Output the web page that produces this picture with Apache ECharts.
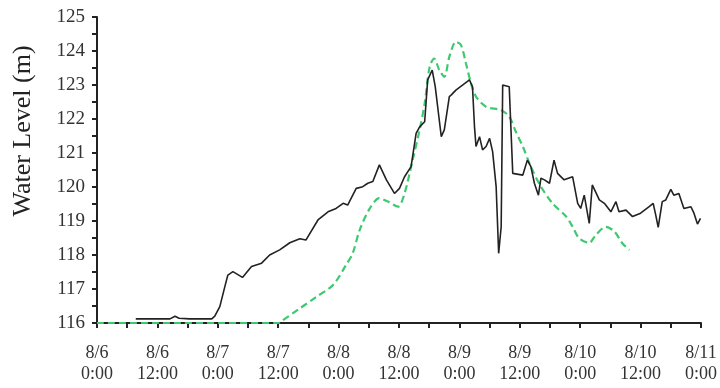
<!DOCTYPE html>
<html>
<head>
<meta charset="utf-8">
<script src="https://cdn.jsdelivr.net/npm/echarts@6/dist/echarts.min.js"></script>
<style>
  html, body { margin: 0; padding: 0; background: #fff; }
  #chart { width: 720px; height: 388px; }
</style>
</head>
<body>
<div id="chart"></div>
<script>
// hours since 8/6 0:00
var xTickLabels = ['8/6\n0:00', '8/6\n12:00', '8/7\n0:00', '8/7\n12:00', '8/8\n0:00', '8/8\n12:00',
	'8/9\n0:00', '8/9\n12:00', '8/10\n0:00', '8/10\n12:00', '8/11\n0:00'];

var observedHours = [7.7, 14.5, 15.5, 16.3, 18.4, 22.8, 23.4, 24.4, 25.4, 26.0, 27.0, 28.9, 30.7, 32.7, 34.3, 36.3,
	38.3, 40.3, 41.5, 43.9, 45.9, 47.5, 48.9, 49.8, 51.5, 52.8, 53.8, 54.8, 56.1, 57.5, 59.1, 60.1,
	61.1, 62.4, 63.4, 64.1, 65.1, 65.7, 66.6, 67.2, 68.0, 68.4, 69.0, 70.0, 70.4, 71.3, 74.0, 74.6,
	75.0, 75.3, 76.0, 76.6, 77.3, 78.0, 78.6, 79.3, 79.8, 80.3, 80.6, 81.9, 82.6, 82.9, 84.6, 85.5,
	86.2, 86.9, 87.7, 88.2, 88.9, 89.9, 90.8, 91.5, 92.8, 94.5, 95.5, 96.1, 96.8, 97.8, 98.4, 99.8,
	100.8, 102.1, 103.1, 103.7, 105.1, 106.4, 108.0, 109.7, 110.5, 111.0, 111.5, 112.3, 113.0, 114.0,
	114.6, 115.6, 116.6, 118.0, 118.6, 119.3, 119.9];
var observedLevel = [116.12, 116.12, 116.2, 116.14, 116.12, 116.12, 116.2, 116.48, 117.07, 117.41, 117.51, 117.34, 117.66, 117.76, 118.0, 118.15,
	118.36, 118.48, 118.44, 119.03, 119.27, 119.37, 119.52, 119.47, 119.96, 120.01, 120.11, 120.16, 120.65, 120.21, 119.81, 119.96,
	120.30, 120.60, 121.58, 121.77, 121.92, 123.15, 123.44, 122.95, 121.97, 121.48, 121.68, 122.66, 122.71, 122.85, 123.15, 122.95,
	121.77, 121.19, 121.48, 121.09, 121.19, 121.43, 121.04, 120.01, 118.05, 118.83, 123.0, 122.95, 120.40, 120.35, 120.35, 120.79,
	120.60, 120.11, 119.76, 120.26, 120.21, 120.11, 120.79, 120.40, 120.21, 120.30, 119.52, 119.37, 119.76, 118.93, 120.06, 119.62,
	119.52, 119.27, 119.57, 119.27, 119.32, 119.13, 119.23, 119.42, 119.52, 119.18, 118.81, 119.57, 119.62, 119.93,
	119.76, 119.81, 119.37, 119.42, 119.23, 118.91, 119.08];

var simulatedHours = [0, 36, 36.5, 40.3, 43.6, 46.9, 49.5, 50.8, 52.2, 54.2, 56.1, 57.8, 59.8, 61.1, 62.7, 64.1,
	65.1, 66.1, 67.0, 68.0, 69.0, 70.0, 71.3, 72.3, 73.3, 74.3, 75.3, 77.3, 80.3, 81.9, 83.2, 84.6,
	86.2, 88.2, 90.5, 93.2, 94.5, 95.8, 97.8, 99.1, 101.1, 102.8, 104.4, 105.8];
var simulatedLevel = [116.0, 116.0, 116.04, 116.43, 116.77, 117.12, 117.71, 118.05, 118.74, 119.37, 119.67, 119.57, 119.42, 119.81, 120.79, 121.68,
	122.46, 123.54, 123.78, 123.44, 123.24, 123.83, 124.27, 124.18, 123.64, 123.05, 122.66, 122.36, 122.26, 122.07, 121.63, 121.19,
	120.60, 120.01, 119.52, 119.13, 118.83, 118.49, 118.36, 118.59, 118.83, 118.69, 118.34, 118.15];

function pairs(xs, ys) {
	var out = [];
	for (var i = 0; i < xs.length; i++) {
		out.push([xs[i], ys[i]]);
	}
	return out;
}

var serif = '"Liberation Serif", "DejaVu Serif", serif';

var chart = echarts.init(document.getElementById('chart'));
chart.setOption({
	animation: false,
	grid: { left: 97, right: 18, top: 17, bottom: 65 },
	// axis title sits above the middle of the axis in the original
	graphic: [{
		type: 'text',
		x: 23,
		y: 131,
		rotation: Math.PI / 2,
		style: {
			text: 'Water Level (m)',
			fontFamily: serif,
			fontSize: 26,
			fill: '#222',
			align: 'center',
			verticalAlign: 'middle'
		}
	}],
	xAxis: {
		type: 'value',
		min: 0,
		max: 120,
		interval: 12,
		axisLine: { lineStyle: { color: '#222', width: 2 } },
		axisTick: { length: 5, lineStyle: { color: '#222', width: 2 } },
		minorTick: { show: true, splitNumber: 2, length: 5, lineStyle: { color: '#222', width: 2 } },
		splitLine: { show: false },
		axisLabel: {
			margin: 20,
			fontFamily: serif,
			fontSize: 18,
			lineHeight: 21,
			color: '#333',
			formatter: function(v) { return xTickLabels[Math.round(v / 12)]; }
		}
	},
	yAxis: {
		type: 'value',
		min: 116,
		max: 125,
		interval: 1,
		axisLine: { show: true, lineStyle: { color: '#222', width: 2 } },
		axisTick: { show: true, length: 5, lineStyle: { color: '#222', width: 2 } },
		minorTick: { show: true, splitNumber: 2, length: 5, lineStyle: { color: '#222', width: 2 } },
		splitLine: { show: false },
		axisLabel: { margin: 12, fontFamily: serif, fontSize: 19, color: '#333' }
	},
	series: [{
		name: 'Simulated',
		type: 'line',
		data: pairs(simulatedHours, simulatedLevel),
		smooth: 0.3,
		showSymbol: false,
		lineStyle: { color: '#3ec970', width: 2.2, type: [7, 4] },
		z: 2
	}, {
		name: 'Observed',
		type: 'line',
		data: pairs(observedHours, observedLevel),
		showSymbol: false,
		lineStyle: { color: '#222', width: 1.6 },
		z: 3
	}]
});
</script>
</body>
</html>
